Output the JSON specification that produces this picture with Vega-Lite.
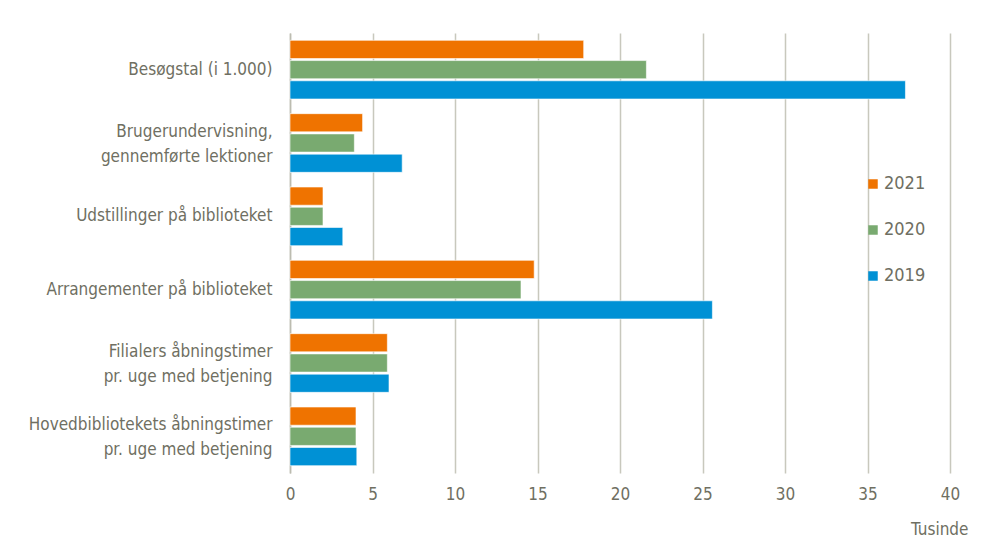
{
  "$schema": "https://vega.github.io/schema/vega-lite/v6.json",
  "width": 660,
  "height": 440,
  "autosize": {"type": "none"},
  "padding": {"left": 290, "top": 33, "right": 33, "bottom": 65},
  "background": "white",
  "config": {
    "font": "Liberation Sans Narrow, Arial Narrow, DejaVu Sans Condensed, Liberation Sans, sans-serif",
    "view": {"stroke": null}
  },
  "data": {
    "values": [
      {"cat": "Besøgstal (i 1.000)", "order": 1, "year": "2021", "value": 17.8},
      {"cat": "Besøgstal (i 1.000)", "order": 1, "year": "2020", "value": 21.6},
      {"cat": "Besøgstal (i 1.000)", "order": 1, "year": "2019", "value": 37.3},
      {"cat": "Brugerundervisning, |gennemførte lektioner", "order": 2, "year": "2021", "value": 4.4},
      {"cat": "Brugerundervisning, |gennemførte lektioner", "order": 2, "year": "2020", "value": 3.9},
      {"cat": "Brugerundervisning, |gennemførte lektioner", "order": 2, "year": "2019", "value": 6.8},
      {"cat": "Udstillinger på biblioteket", "order": 3, "year": "2021", "value": 2.0},
      {"cat": "Udstillinger på biblioteket", "order": 3, "year": "2020", "value": 2.0},
      {"cat": "Udstillinger på biblioteket", "order": 3, "year": "2019", "value": 3.2},
      {"cat": "Arrangementer på biblioteket", "order": 4, "year": "2021", "value": 14.8},
      {"cat": "Arrangementer på biblioteket", "order": 4, "year": "2020", "value": 14.0},
      {"cat": "Arrangementer på biblioteket", "order": 4, "year": "2019", "value": 25.6},
      {"cat": "Filialers åbningstimer |pr. uge med betjening", "order": 5, "year": "2021", "value": 5.9},
      {"cat": "Filialers åbningstimer |pr. uge med betjening", "order": 5, "year": "2020", "value": 5.9},
      {"cat": "Filialers åbningstimer |pr. uge med betjening", "order": 5, "year": "2019", "value": 6.0},
      {"cat": "Hovedbibliotekets åbningstimer|pr. uge med betjening", "order": 6, "year": "2021", "value": 4.0},
      {"cat": "Hovedbibliotekets åbningstimer|pr. uge med betjening", "order": 6, "year": "2020", "value": 4.0},
      {"cat": "Hovedbibliotekets åbningstimer|pr. uge med betjening", "order": 6, "year": "2019", "value": 4.05}
    ]
  },
  "mark": {"type": "bar", "stroke": "white", "strokeWidth": 1, "strokeOpacity": 0.6},
  "encoding": {
    "y": {
      "field": "cat",
      "type": "nominal",
      "sort": {"field": "order", "op": "min"},
      "scale": {"paddingInner": 0.2, "paddingOuter": 0.1},
      "axis": {
        "title": null,
        "ticks": false,
        "domain": true,
        "domainColor": "#bcbcb0",
        "domainWidth": 1.5,
        "labelExpr": "split(datum.label, '|')",
        "labelFontSize": 17,
        "labelColor": "#6f6f62",
        "labelPadding": 18,
        "labelLineHeight": 25,
        "labelLimit": 300,
        "labelOffset": {"condition": {"test": "indexof(datum.value, '|') >= 0", "value": -11}, "value": 0}
      }
    },
    "yOffset": {
      "field": "year",
      "type": "nominal",
      "sort": ["2021", "2020", "2019"],
      "scale": {"paddingInner": 0.1, "paddingOuter": 0}
    },
    "x": {
      "field": "value",
      "type": "quantitative",
      "scale": {"domain": [0, 40]},
      "axis": {
        "values": [0, 5, 10, 15, 20, 25, 30, 35, 40],
        "domain": false,
        "ticks": false,
        "grid": true,
        "gridColor": "#c8c8bd",
        "gridWidth": 1.5,
        "labelFlush": false,
        "labelFontSize": 17,
        "labelColor": "#6f6f62",
        "labelPadding": 13,
        "title": "Tusinde",
        "titleFontWeight": "normal",
        "titleFontSize": 17,
        "titleColor": "#6f6f62",
        "titleAnchor": "end",
        "titleAlign": "right",
        "titleX": 678,
        "titlePadding": 19
      }
    },
    "color": {
      "field": "year",
      "type": "nominal",
      "sort": ["2021", "2020", "2019"],
      "scale": {"domain": ["2021", "2020", "2019"], "range": ["#ef7300", "#79aa70", "#0091d5"]},
      "legend": {
        "title": null,
        "orient": "none",
        "legendX": 574,
        "legendY": 142,
        "symbolType": "square",
        "symbolSize": 90,
        "symbolStrokeWidth": 0,
        "labelFontSize": 18,
        "labelColor": "#6f6f62",
        "labelOffset": 2,
        "rowPadding": 28
      }
    }
  }
}
